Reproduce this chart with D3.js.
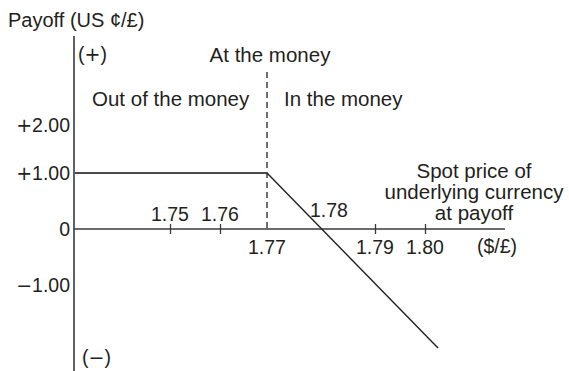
<!DOCTYPE html>
<html>
<head>
<meta charset="utf-8">
<script src="https://cdn.jsdelivr.net/npm/d3@7"></script>
<style>
  body { margin: 0; background: #fff; }
  svg text { font-family: "Liberation Sans", Arial, sans-serif; font-size: 19.5px; fill: #231f20; }
  svg text.words { font-size: 20.5px; }
  svg text .sign { font-family: "DejaVu Sans", sans-serif; font-size: 19px; }
</style>
</head>
<body>
<div id="chart"></div>
<script>
// payoff of the option at expiry, US cents per pound
const spot = [1.731, 1.77, 1.8026];
const payoff = [1.00, 1.00, -2.125];

const strike = 1.77;
const xTickValues = [1.75, 1.76, 1.77, 1.78, 1.79, 1.80];
const xTicksAbove = [1.75, 1.76, 1.78];
const xTickMarks = [1.75, 1.76, 1.79, 1.80];
const yTickValues = [2, 1, 0, -1];
const yTickSigns = ["+", "+", "", "\u2212"];
const yTickLabels = ["2.00", "1.00", "0", "1.00"];

const width = 569;
const height = 371;

const svg = d3.select("#chart").append("svg")
  .attr("width", width)
  .attr("height", height);

// the drawing is a schematic, spacing is not quite even
const x = d3.scaleLinear()
  .domain([1.75, 1.76, 1.77, 1.79, 1.80])
  .range([170, 220, 267, 375, 425]);
const y = d3.scaleLinear()
  .domain([-1, 0, 1, 2])
  .range([285, 229, 173, 125]);

const xMin = x.invert(74), xMax = x.invert(505);
const yMin = y.invert(371), yMax = y.invert(36);

// axes
svg.append("line")
  .attr("x1", x(xMin)).attr("x2", x(xMax))
  .attr("y1", y(0)).attr("y2", y(0))
  .attr("stroke", "#3a3a3a").attr("stroke-width", 1.6);

svg.append("line")
  .attr("x1", x(xMin)).attr("x2", x(xMin))
  .attr("y1", y(yMax)).attr("y2", y(yMin))
  .attr("stroke", "#3a3a3a").attr("stroke-width", 1.6);

const xAxis = svg.append("g")
  .attr("transform", `translate(0,${y(0) - 5})`)
  .call(d3.axisBottom(x).tickValues(xTickMarks).tickSize(10).tickFormat(""));
xAxis.select(".domain").remove();
xAxis.selectAll(".tick line").attr("stroke", "#3a3a3a").attr("stroke-width", 1.3);

// x tick labels, some above, some below the axis
svg.selectAll("text.xlab")
  .data(xTickValues)
  .join("text")
  .attr("class", "xlab")
  .attr("text-anchor", "middle")
  .attr("x", d => x(d) + (d === 1.78 ? 8 : 0))
  .attr("y", d => xTicksAbove.includes(d) ? y(0) - (d === 1.78 ? 12 : 8) : y(0) + 25)
  .text(d => d.toFixed(2));

svg.append("text")
  .attr("x", 497).attr("y", y(0) + 24)
  .attr("text-anchor", "middle")
  .text("($/£)");

// y tick labels
const ylab = svg.selectAll("text.ylab")
  .data(yTickValues)
  .join("text")
  .attr("class", "ylab")
  .attr("text-anchor", "end")
  .attr("dominant-baseline", "central")
  .attr("x", 70)
  .attr("y", d => y(d));
ylab.append("tspan").attr("class", "sign").text((d, i) => yTickSigns[i]);
ylab.append("tspan").text((d, i) => yTickLabels[i]);

// strike marker
svg.append("line")
  .attr("x1", x(strike)).attr("x2", x(strike))
  .attr("y1", 72).attr("y2", y(0))
  .attr("stroke", "#231f20").attr("stroke-width", 1.3)
  .attr("stroke-dasharray", "6,4");

// payoff line
const line = d3.line().x(d => x(d[0])).y(d => y(d[1]));
svg.append("path")
  .datum(d3.zip(spot.slice(0, 2), payoff.slice(0, 2)))
  .attr("d", line)
  .attr("fill", "none")
  .attr("stroke", "#4a4a4a")
  .attr("stroke-width", 2);
svg.append("path")
  .datum(d3.zip(spot.slice(1), payoff.slice(1)))
  .attr("d", line)
  .attr("fill", "none")
  .attr("stroke", "#231f20")
  .attr("stroke-width", 1.4);

// annotations
svg.append("text").attr("class", "words").attr("x", 8).attr("y", 27)
  .style("font-size", "20px").text("Payoff (US ¢/£)");
const plus = svg.append("text").attr("x", 78).attr("y", 61);
plus.append("tspan").text("(");
plus.append("tspan").attr("class", "sign").text("+");
plus.append("tspan").text(")");
const minus = svg.append("text").attr("x", 82).attr("y", 364);
minus.append("tspan").text("(");
minus.append("tspan").attr("class", "sign").text("\u2212");
minus.append("tspan").text(")");
svg.append("text").attr("class", "words").attr("x", 270).attr("y", 62)
  .attr("text-anchor", "middle").text("At the money");
svg.append("text").attr("class", "words").attr("x", 92).attr("y", 106).text("Out of the money");
svg.append("text").attr("class", "words").attr("x", 284).attr("y", 106).text("In the money");

const spotLabel = svg.append("text").attr("class", "words").attr("text-anchor", "middle");
["Spot price of", "underlying currency", "at payoff"].forEach((t, i) => {
  spotLabel.append("tspan").attr("x", 474).attr("y", 178 + i * 21).text(t);
});
</script>
</body>
</html>
